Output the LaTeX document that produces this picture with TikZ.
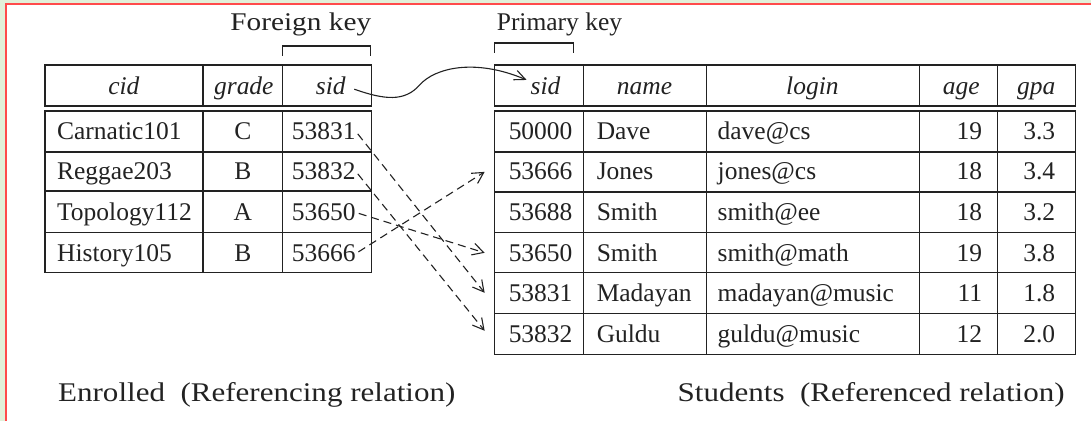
\documentclass[tikz,border=0pt]{standalone}
\usepackage{fontspec}
\setmainfont{Liberation Serif}
\usetikzlibrary{arrows.meta}
\definecolor{bggreen}{HTML}{E2F0D9}
\definecolor{redline}{HTML}{FF4B4B}
\definecolor{ink}{HTML}{222222}
\begin{document}
\begin{tikzpicture}[x=1pt,y=-1pt,
  cell/.style={inner sep=0pt, anchor=base, text=ink, font=\fontsize{25.5}{30}\selectfont},
  lcell/.style={cell, anchor=base west},
  rcell/.style={cell, anchor=base east},
  hcell/.style={cell, font=\fontsize{25.5}{30}\selectfont\itshape},
  grid/.style={draw=ink, line width=1.3pt},
  keybracket/.style={draw=ink, line width=1.2pt},
  title/.style={inner sep=0pt, text=ink, font=\fontsize{25.5}{30}\selectfont},
  caption/.style={inner sep=0pt, anchor=base west, text=ink, xscale=1.15, font=\fontsize{27}{32}\selectfont},
  dasharrow/.style={draw=ink, line width=1.1pt, dash pattern=on 8pt off 5pt,
     -{Straight Barb[length=11pt,width=12pt,line width=1.1pt]}, shorten <=3pt},
  curvearrow/.style={draw=ink, line width=1.1pt,
     -{Straight Barb[length=11pt,width=10pt,line width=1.1pt]}, shorten <=9pt}
]
% background and frame
\fill[bggreen] (0,0) rectangle (1092,421);
\fill[white] (6,4) rectangle (1092,421);
\draw[redline, line width=1.6pt] (6,421) -- (6,4) -- (1092,4);
\useasboundingbox (0,0) rectangle (1092,421);

% ---------- Enrolled table ----------
\draw[grid] (45,65) rectangle (372,106);
\draw[grid] (203,65) -- (203,106) (283,65) -- (283,106);
\draw[grid] (45,111) rectangle (372,273);
\draw[grid] (203,111) -- (203,273) (283,111) -- (283,273);
\draw[grid] (45,152) -- (372,152) (45,191) -- (372,191) (45,233) -- (372,233);

\node[hcell] (Lhcid) at (124,95) {cid};
\node[hcell] (Lhgrade) at (244,95) {grade};
\node[hcell] (Lhsid) at (331,95) {sid};

\node[lcell] (Lc1) at (57,140) {Carnatic101};
\node[lcell] (Lc2) at (57,180) {Reggae203};
\node[lcell] (Lc3) at (57,221) {Topology112};
\node[lcell] (Lc4) at (57,262) {History105};
\node[cell] (Lg1) at (243,140) {C};
\node[cell] (Lg2) at (243,180) {B};
\node[cell] (Lg3) at (243,221) {A};
\node[cell] (Lg4) at (243,262) {B};
\node[lcell] (Ls1) at (292,140) {53831};
\node[lcell] (Ls2) at (292,180) {53832};
\node[lcell] (Ls3) at (292,221) {53650};
\node[lcell] (Ls4) at (292,262) {53666};

% ---------- Students table ----------
\draw[grid] (495,65) rectangle (1076,106);
\draw[grid] (584,65) -- (584,106) (707,65) -- (707,106) (920,65) -- (920,106) (998,65) -- (998,106);
\draw[grid] (495,111) rectangle (1076,355);
\draw[grid] (584,111) -- (584,355) (707,111) -- (707,355) (920,111) -- (920,355) (998,111) -- (998,355);
\draw[grid] (495,152) -- (1076,152) (495,192) -- (1076,192) (495,233) -- (1076,233)
            (495,273) -- (1076,273) (495,314) -- (1076,314);

\node[hcell] (Rhsid) at (546,95) {sid};
\node[hcell] (Rhname) at (645,95) {name};
\node[hcell] (Rhlogin) at (813,95) {login};
\node[hcell] (Rhage) at (962,95) {age};
\node[hcell] (Rhgpa) at (1037,95) {gpa};

\node[cell] (Rs1) at (541,140) {50000};
\node[cell] (Rs2) at (541,180) {53666};
\node[cell] (Rs3) at (541,221) {53688};
\node[cell] (Rs4) at (541,262) {53650};
\node[cell] (Rs5) at (541,302) {53831};
\node[cell] (Rs6) at (541,343) {53832};
\node[lcell] (Rn1) at (597,140) {Dave};
\node[lcell] (Rn2) at (597,180) {Jones};
\node[lcell] (Rn3) at (597,221) {Smith};
\node[lcell] (Rn4) at (597,262) {Smith};
\node[lcell] (Rn5) at (597,302) {Madayan};
\node[lcell] (Rn6) at (597,343) {Guldu};
\node[lcell] (Rl1) at (718,140) {dave@cs};
\node[lcell] (Rl2) at (718,180) {jones@cs};
\node[lcell] (Rl3) at (718,221) {smith@ee};
\node[lcell] (Rl4) at (718,262) {smith@math};
\node[lcell] (Rl5) at (718,302) {madayan@music};
\node[lcell] (Rl6) at (718,343) {guldu@music};
\node[rcell] (Ra1) at (983,140) {19};
\node[rcell] (Ra2) at (983,180) {18};
\node[rcell] (Ra3) at (983,221) {18};
\node[rcell] (Ra4) at (983,262) {19};
\node[rcell] (Ra5) at (983,302) {11};
\node[rcell] (Ra6) at (983,343) {12};
\node[cell] (Rg1) at (1040,140) {3.3};
\node[cell] (Rg2) at (1040,180) {3.4};
\node[cell] (Rg3) at (1040,221) {3.2};
\node[cell] (Rg4) at (1040,262) {3.8};
\node[cell] (Rg5) at (1040,302) {1.8};
\node[cell] (Rg6) at (1040,343) {2.0};

% ---------- key labels and brackets ----------
\node[title, anchor=base, xscale=1.15] (fklabel) at (301,31) {Foreign key};
\draw[keybracket] (283,56) -- (283,46) -- (371,46) -- (371,56);
\node[title, anchor=base west] (pklabel) at (497,31) {Primary key};
\draw[keybracket] (495,53) -- (495,43) -- (574,43) -- (574,53);

% ---------- connectors ----------
\coordinate (pkin) at (527,80);
\draw[curvearrow] (Lhsid.east) .. controls (385,100) and (405,102) .. (420,85)
                  .. controls (435,68) and (475,58) .. (pkin);

\coordinate (toR2) at (485,172);
\coordinate (toR4) at (485,253);
\coordinate (toR5) at (485,293);
\coordinate (toR6) at (485,331);
\draw[dasharrow] (Ls1.east) -- (toR5);
\draw[dasharrow] (Ls2.east) -- (toR6);
\draw[dasharrow] (Ls3.east) -- (toR4);
\draw[dasharrow] (Ls4.east) -- (toR2);

% ---------- captions ----------
\node[caption] (enrolled) at (58,402) {Enrolled\ \ (Referencing relation)};
\node[caption] (students) at (678,402) {Students\ \ (Referenced relation)};
\end{tikzpicture}
\end{document}
